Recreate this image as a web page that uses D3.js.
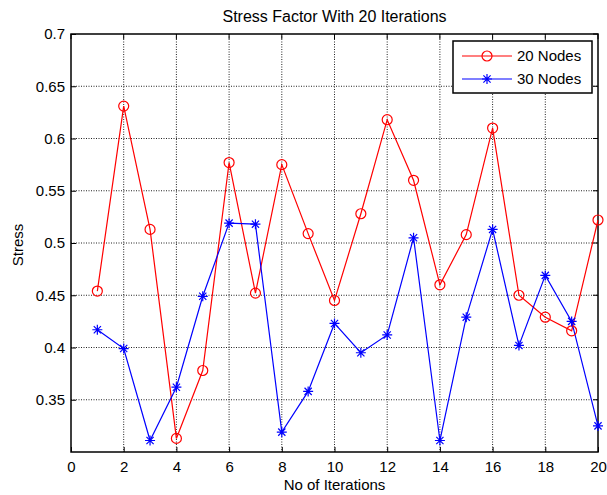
<!DOCTYPE html>
<html>
<head>
<meta charset="utf-8">
<script src="https://cdn.jsdelivr.net/npm/d3@7"></script>
<style>
  body { margin: 0; background: #fff; }
  svg text { font-family: "Liberation Sans", Arial, sans-serif; fill: #000; }
</style>
</head>
<body>
<div id="chart"></div>
<script>
const iterations = d3.range(1, 21);
const nodes20 = [0.454, 0.631, 0.513, 0.313, 0.378, 0.577, 0.452, 0.575, 0.509, 0.445,
                 0.528, 0.618, 0.560, 0.460, 0.508, 0.610, 0.450, 0.429, 0.416, 0.522];
const nodes30 = [0.417, 0.399, 0.311, 0.362, 0.449, 0.519, 0.518, 0.319, 0.358, 0.423,
                 0.395, 0.412, 0.505, 0.311, 0.429, 0.513, 0.402, 0.469, 0.425, 0.325];
const xTicks = [0, 2, 4, 6, 8, 10, 12, 14, 16, 18, 20];
const yTicks = [0.35, 0.4, 0.45, 0.5, 0.55, 0.6, 0.65, 0.7];
const seriesNames = ['20 Nodes', '30 Nodes'];

const width = 607, height = 495;
const margin = { left: 71, right: 9, top: 34, bot: 43 };
const w = width - margin.left - margin.right;
const h = height - margin.top - margin.bot;

const svg = d3.select('#chart').append('svg')
  .attr('width', width)
  .attr('height', height);

const g = svg.append('g')
  .attr('transform', `translate(${margin.left}, ${margin.top})`);

const xScale = d3.scaleLinear().domain([0, 20]).range([0, w]);
const yScale = d3.scaleLinear().domain([0.3, 0.7]).range([h, 0]);

// grid
g.append('g').selectAll('line')
  .data(xTicks.slice(1, -1))
  .enter().append('line')
  .attr('x1', (d) => xScale(d)).attr('x2', (d) => xScale(d))
  .attr('y1', 0).attr('y2', h)
  .attr('stroke', '#222').attr('stroke-width', 1).attr('stroke-dasharray', '1,1.5');

g.append('g').selectAll('line')
  .data(yTicks.slice(0, -1))
  .enter().append('line')
  .attr('x1', 0).attr('x2', w)
  .attr('y1', (d) => yScale(d)).attr('y2', (d) => yScale(d))
  .attr('stroke', '#222').attr('stroke-width', 1).attr('stroke-dasharray', '1,1.5');

// axes, ticks inward
const xAxis = d3.axisBottom(xScale).tickValues(xTicks).tickSize(-5).tickPadding(9);
const yAxis = d3.axisLeft(yScale).tickValues(yTicks).tickSize(-5).tickPadding(6)
  .tickFormat((d) => String(+d.toFixed(2)));

const gx = g.append('g').attr('transform', `translate(0, ${h})`).call(xAxis);
const gy = g.append('g').call(yAxis);
[gx, gy].forEach((a) => {
  a.select('.domain').remove();
  a.selectAll('text').style('font-size', '15px').style('font-family', '"Liberation Sans", Arial, sans-serif');
  a.selectAll('line').attr('stroke', '#000');
});

// top and right ticks
g.append('g').selectAll('line').data(xTicks).enter().append('line')
  .attr('x1', (d) => xScale(d)).attr('x2', (d) => xScale(d))
  .attr('y1', 0).attr('y2', 5).attr('stroke', '#000');
g.append('g').selectAll('line').data(yTicks).enter().append('line')
  .attr('x1', w).attr('x2', w - 5)
  .attr('y1', (d) => yScale(d)).attr('y2', (d) => yScale(d)).attr('stroke', '#000');

g.append('rect')
  .attr('width', w).attr('height', h)
  .attr('fill', 'none').attr('stroke', '#000').attr('stroke-width', 1.5);

// lines
const line = d3.line().x((d) => xScale(d[0])).y((d) => yScale(d[1]));
const red = iterations.map((x, i) => [x, nodes20[i]]);
const blue = iterations.map((x, i) => [x, nodes30[i]]);

g.append('path').datum(red).attr('d', line)
  .attr('fill', 'none').attr('stroke', '#ff0000').attr('stroke-width', 1.2);
g.append('path').datum(blue).attr('d', line)
  .attr('fill', 'none').attr('stroke', '#0000ff').attr('stroke-width', 1.2);

function circleMark(sel) {
  sel.append('circle').attr('r', 5)
    .attr('fill', 'none').attr('stroke', '#ff0000').attr('stroke-width', 1.2);
}
function starMark(sel) {
  const s = 5, k = 3.6;
  sel.append('path')
    .attr('d', `M${-s},0H${s}M0,${-s}V${s}M${-k},${-k}L${k},${k}M${-k},${k}L${k},${-k}`)
    .attr('stroke', '#0000ff').attr('stroke-width', 1.2).attr('fill', 'none');
}

g.append('g').selectAll('g').data(red).enter().append('g')
  .attr('transform', (d) => `translate(${xScale(d[0])}, ${yScale(d[1])})`)
  .call(circleMark);
g.append('g').selectAll('g').data(blue).enter().append('g')
  .attr('transform', (d) => `translate(${xScale(d[0])}, ${yScale(d[1])})`)
  .call(starMark);

// labels
svg.append('text')
  .attr('x', margin.left + w / 2).attr('y', 22)
  .attr('text-anchor', 'middle').style('font-size', '16px')
  .text('Stress Factor With 20 Iterations');

svg.append('text')
  .attr('x', margin.left + w / 2).attr('y', 490)
  .attr('text-anchor', 'middle').style('font-size', '15px')
  .text('No of Iterations');

svg.append('text')
  .attr('transform', 'translate(23, 245) rotate(-90)')
  .attr('text-anchor', 'middle').style('font-size', '15px')
  .text('Stress');

// legend
const legend = svg.append('g').attr('transform', 'translate(453, 41)');
legend.append('rect').attr('width', 139).attr('height', 52)
  .attr('fill', '#fff').attr('stroke', '#000').attr('stroke-width', 1.5);

const rows = [
  { name: seriesNames[0], color: '#ff0000', mark: circleMark, y: 15 },
  { name: seriesNames[1], color: '#0000ff', mark: starMark, y: 38 }
];
rows.forEach((r) => {
  legend.append('line').attr('x1', 9).attr('x2', 59)
    .attr('y1', r.y).attr('y2', r.y).attr('stroke', r.color).attr('stroke-width', 1.2);
  legend.append('g').attr('transform', `translate(34, ${r.y})`).call(r.mark);
  legend.append('text').attr('x', 64).attr('y', r.y + 5)
    .style('font-size', '15px').text(r.name);
});
</script>
</body>
</html>
